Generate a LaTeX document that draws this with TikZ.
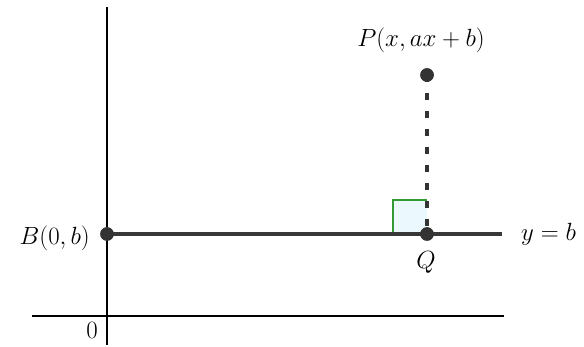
\documentclass[tikz,border=0pt]{standalone}
\usepackage{tikz}
\begin{document}
\begin{tikzpicture}[x=1pt,y=-1pt,
  axis/.style={line width=1.6pt,black},
  mainline/.style={line width=3.2pt,black!78},
  pt/.style={circle,fill=black!80,inner sep=0pt,minimum size=13.5pt},
  lab/.style={font=\fontsize{26}{30}\selectfont,inner sep=0pt},
  dashline/.style={line width=3.6pt,black!80,dash pattern=on 7pt off 11pt},
  rightang/.style={draw=green!50!black!80,line width=2.4pt}]
\useasboundingbox (0,0) rectangle (584,347);
\coordinate (ytop) at (107,7);
\coordinate (ybot) at (107,345);
\coordinate (xl) at (32,316);
\coordinate (xr) at (504,316);
\draw[axis] (ytop) -- (ybot);
\draw[axis] (xl) -- (xr);
\node[lab,anchor=base] (zero) at (92,339) {$0$};
% right angle
\coordinate (ra1) at (393,200);
\coordinate (ra2) at (427,234);
\fill[cyan!8] (ra1) rectangle (ra2);
\draw[rightang] (393,234) -- (ra1) -- (427,200);
\node[pt] (B) at (107,234) {};
\node[pt] (Q) at (427,234) {};
\node[pt] (P) at (427,75) {};
\coordinate (lineend) at (502,234);
\draw[mainline] (B.center) -- (lineend);
\draw[dashline] (P.center) -- (Q.center);
\node[pt] at (B) {};
\node[pt] at (Q) {};
\node[pt] at (P) {};
\node[lab,anchor=base] (Plab) at (421,47) {$P(x,ax+b)$};
\node[lab,anchor=base east] (Blab) at (90,245) {$B(0,b)$};
\node[lab,anchor=base] (Qlab) at (426,269) {$Q$};
\node[lab,anchor=base west] (ylab) at (521,241) {$y=b$};
\end{tikzpicture}
\end{document}
